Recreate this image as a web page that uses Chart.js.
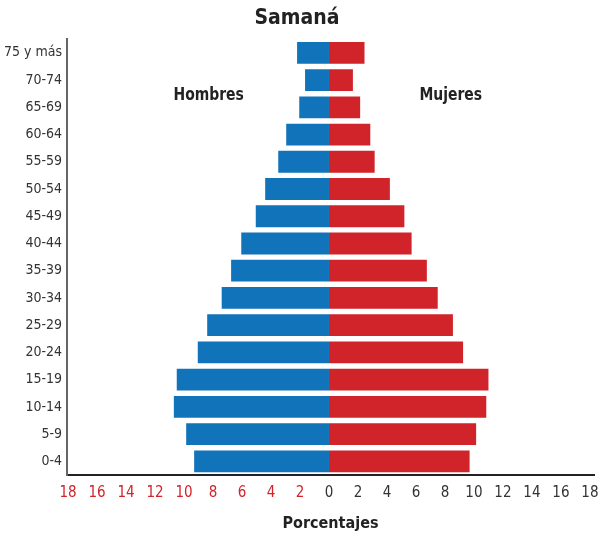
<!DOCTYPE html>
<html>
<head>
<meta charset="utf-8">
<script src="https://cdn.jsdelivr.net/npm/chart.js@4"></script>
<style>
  html, body { margin: 0; padding: 0; background: #fff; }
  #wrap { width: 608px; height: 536px; }
</style>
</head>
<body>
<div id="wrap"><canvas id="pyramid"></canvas></div>
<script>
const ageGroups = ['0-4', '5-9', '10-14', '15-19', '20-24', '25-29', '30-34', '35-39',
    '40-44', '45-49', '50-54', '55-59', '60-64', '65-69', '70-74', '75 y más'];
const hombres = [9.3, 9.85, 10.7, 10.5, 9.05, 8.4, 7.4, 6.75, 6.05, 5.05, 4.4, 3.5, 2.95, 2.05, 1.65, 2.2];
const mujeres = [9.7, 10.15, 10.85, 11.0, 9.25, 8.55, 7.5, 6.75, 5.7, 5.2, 4.2, 3.15, 2.85, 2.15, 1.65, 2.45];
const xTicks = [-18, -16, -14, -12, -10, -8, -6, -4, -2, 0, 2, 4, 6, 8, 10, 12, 14, 16, 18];

const narrow = "'DejaVu Sans Condensed', 'Liberation Sans Narrow', sans-serif";
const blue = '#1173ba';
const red = '#d1232a';

// "Hombres" / "Mujeres" labels, squeezed a bit to look like the condensed original
const sideLabels = {
    id: 'sideLabels',
    afterDatasetsDraw(chart) {
        const { ctx, scales: { x, y } } = chart;
        const put = (text, value) => {
            ctx.save();
            ctx.translate(x.getPixelForValue(value), y.top + 56);
            ctx.scale(0.86, 1);
            ctx.fillText(text, 0, 0);
            ctx.restore();
        };
        ctx.save();
        ctx.font = 'bold 18px ' + narrow;
        ctx.fillStyle = '#222';
        ctx.textAlign = 'center';
        ctx.textBaseline = 'middle';
        put('Hombres', -8.3);
        put('Mujeres', 8.4);
        ctx.restore();
    }
};

const ctx = document.getElementById('pyramid').getContext('2d');
const pyramid = new Chart(ctx, {
    type: 'bar',
    data: {
        labels: ageGroups,
        datasets: [{
            label: 'Hombres',
            data: hombres.map(v => -v),
            backgroundColor: blue,
            barPercentage: 0.8,
            categoryPercentage: 1
        }, {
            label: 'Mujeres',
            data: mujeres,
            backgroundColor: red,
            barPercentage: 0.8,
            categoryPercentage: 1
        }]
    },
    options: {
        indexAxis: 'y',
        responsive: true,
        maintainAspectRatio: false,
        animation: false,
        layout: {
            padding: { left: 0, right: 14, top: 0, bottom: 0 }
        },
        plugins: {
            legend: { display: false },
            tooltip: { enabled: false },
            title: {
                display: true,
                text: 'Samaná',
                color: '#222',
                font: { family: narrow, size: 21, weight: 'bold' },
                padding: { top: 6, bottom: 8 }
            }
        },
        scales: {
            x: {
                stacked: true,
                min: -18.07,
                max: 18.28,
                afterBuildTicks: scale => {
                    scale.ticks = xTicks.map(v => ({ value: v }));
                },
                afterFit: scale => { scale.height = 61; },
                grid: { display: false, drawTicks: false },
                border: { display: true, color: '#222', width: 2 },
                ticks: {
                    padding: 9,
                    maxRotation: 0,
                    autoSkip: false,
                    font: { family: narrow, size: 15 },
                    color: ctx => ctx.tick.value < 0 ? '#d1232a' : '#333',
                    callback: v => Math.abs(v)
                },
                title: {
                    display: true,
                    text: 'Porcentajes',
                    color: '#222',
                    font: { family: narrow, size: 16, weight: 'bold' },
                    padding: { top: 0, bottom: 3 }
                }
            },
            y: {
                stacked: true,
                reverse: true,
                afterFit: scale => { scale.width = 67; },
                grid: { display: false, drawTicks: false },
                border: { display: true, color: '#666', width: 2 },
                ticks: {
                    padding: 5,
                    font: { family: narrow, size: 14 },
                    color: '#333'
                }
            }
        }
    },
    plugins: [sideLabels]
});
</script>
</body>
</html>
